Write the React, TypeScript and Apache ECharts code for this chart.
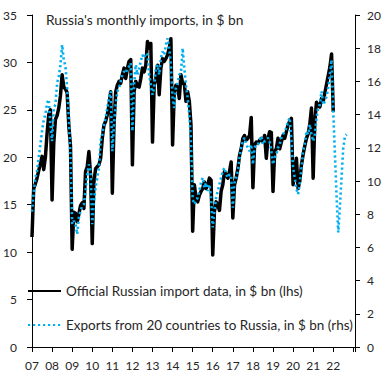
import React, { useEffect, useRef } from 'react';
import * as echarts from 'echarts';

// Month index 0 = Jan 2007
const yearTickLabels = ['07', '08', '09', '10', '11', '12', '13', '14', '15', '16', '17', '18', '19', '20', '21', '22'];

// Official Russian import data, $ bn (lhs), monthly from Jan 2007
const officialImports = [
  11.6, 16.7, 17.2, 17.8, 18.6, 19.3, 20.1, 18.7, 20.0, 22.5, 24.5, 25.0, // 2007
  15.5, 21.5, 24.0, 24.4, 25.2, 26.5, 28.7, 27.4, 27.2, 26.8, 23.3, 21.2, // 2008
  10.3, 14.2, 14.1, 13.2, 14.0, 14.9, 15.2, 14.6, 18.5, 19.0, 20.6, 18.1, // 2009
  10.9, 17.4, 18.8, 19.0, 19.2, 19.9, 22.0, 23.4, 23.8, 24.5, 25.5, 26.9, // 2010
  16.2, 23.4, 26.9, 27.6, 28.0, 27.8, 28.7, 29.4, 28.3, 29.4, 30.1, 30.3, // 2011
  19.2, 26.9, 28.0, 27.5, 27.4, 28.3, 29.4, 29.0, 29.7, 32.2, 31.5, 32.0, // 2012
  21.6, 27.6, 28.3, 29.7, 26.6, 29.4, 30.4, 30.1, 30.4, 30.8, 31.5, 32.5, // 2013
  21.3, 26.9, 27.6, 27.4, 26.2, 28.7, 27.8, 27.8, 25.9, 26.9, 25.9, 23.4, // 2014
  12.2, 17.1, 15.7, 15.3, 16.0, 16.4, 16.7, 17.4, 16.7, 17.1, 17.8, 17.6, // 2015
  9.7, 14.3, 15.3, 15.0, 14.4, 16.4, 17.1, 18.5, 18.1, 17.8, 18.5, 19.5, // 2016
  13.6, 17.1, 17.8, 18.8, 20.2, 20.9, 22.0, 22.3, 21.8, 22.0, 22.3, 24.2, // 2017
  16.8, 21.3, 21.6, 21.5, 21.8, 22.0, 21.6, 22.3, 19.9, 22.0, 22.7, 22.6, // 2018
  16.4, 20.6, 20.9, 22.0, 20.9, 21.6, 22.3, 22.0, 22.7, 23.4, 23.8, 24.1, // 2019
  17.1, 18.1, 19.9, 16.7, 17.5, 19.2, 20.3, 21.2, 22.0, 22.5, 23.5, 25.2, // 2020
  17.8, 23.8, 25.8, 25.5, 25.3, 26.2, 25.9, 26.8, 27.7, 28.6, 29.5, 30.9, // 2021
  24.8, // 2022
];

// Exports from 20 countries to Russia, $ bn (rhs), monthly from Jan 2007
const partnerExports = [
  8.15, 9.3, 10.2, 10.6, 11.4, 12.2, 13.0, 13.7, 14.0, 14.7, 14.9, 13.4, // 2007
  12.4, 14.4, 14.6, 15.9, 16.3, 17.0, 18.2, 17.3, 16.9, 15.6, 13.8, 11.5, // 2008
  7.4, 7.6, 7.4, 6.8, 7.8, 8.2, 8.5, 8.6, 9.4, 10.4, 11.0, 10.6, // 2009
  7.4, 8.8, 9.6, 10.2, 10.8, 12.4, 12.8, 13.4, 13.8, 14.4, 15.0, 15.4, // 2010
  11.8, 13.4, 14.6, 15.4, 15.6, 16.0, 16.4, 16.6, 16.5, 16.8, 16.9, 17.1, // 2011
  13.0, 15.8, 17.0, 16.4, 16.8, 17.2, 17.6, 17.4, 17.7, 17.6, 16.4, 15.8, // 2012
  15.2, 15.6, 16.8, 17.0, 16.4, 17.4, 17.8, 17.6, 18.2, 18.6, 18.0, 17.0, // 2013
  15.0, 14.4, 15.6, 15.9, 16.4, 16.5, 18.0, 16.8, 15.8, 15.0, 14.0, 12.4, // 2014
  8.9, 8.6, 8.8, 9.0, 9.4, 9.9, 10.2, 9.6, 9.9, 9.4, 9.8, 9.0, // 2015
  7.2, 8.2, 9.0, 9.4, 9.8, 10.2, 10.6, 10.8, 10.4, 10.2, 10.4, 10.3, // 2016
  8.4, 9.9, 10.2, 10.6, 11.4, 12.0, 12.4, 12.6, 12.2, 12.0, 11.8, 12.2, // 2017
  11.0, 12.0, 12.2, 12.2, 12.4, 12.7, 12.2, 12.4, 12.5, 12.6, 12.4, 11.8, // 2018
  11.0, 11.4, 11.6, 12.0, 12.2, 12.6, 12.8, 13.0, 13.2, 13.6, 13.8, 12.4, // 2019
  10.8, 10.2, 9.5, 9.2, 9.9, 10.8, 11.8, 12.2, 13.0, 12.8, 13.4, 12.8, // 2020
  12.4, 12.8, 13.8, 14.4, 14.6, 15.4, 14.6, 14.8, 15.1, 15.6, 16.4, 17.3, // 2021
  14.2, 11.6, 9.0, 6.9, 8.5, 10.3, 12.0, 12.7, 12.8, // 2022
];

const leftTicks = { min: 0, max: 35, interval: 5 };
const rightTicks = { min: 0, max: 20, interval: 2 };
const monthAxisMax = 193;

const chartTitle = "Russia's monthly imports, in $ bn";
const seriesNames = [
  'Official Russian import data, in $ bn (lhs)',
  'Exports from 20 countries to Russia, in $ bn (rhs)',
];

const FONT = 'Lato, "Noto Sans", sans-serif';
const TEXT = '#262626';
const BLUE = '#00B0F0';

export default function App() {
  const ref = useRef<HTMLDivElement>(null);
  useEffect(() => {
    if (!ref.current) return;
    const chart = echarts.init(ref.current, null, { renderer: 'svg' });
    const axisLine = { show: true, lineStyle: { color: '#000', width: 1 } };
    const axisTick = { show: true, length: 5, inside: false, lineStyle: { color: '#000', width: 1 } };
    chart.setOption({
      animation: false,
      textStyle: { fontFamily: FONT },
      title: {
        text: chartTitle,
        left: 46,
        top: 12,
        padding: 0,
        textStyle: { fontFamily: FONT, fontSize: 13.8, fontWeight: 'normal', color: TEXT },
      },
      legend: {
        orient: 'vertical',
        left: 27,
        top: 284,
        padding: 0,
        itemGap: 20,
        itemWidth: 33,
        itemHeight: 14,
        itemStyle: { opacity: 0 },
        textStyle: { fontFamily: FONT, fontSize: 13.5, color: TEXT },
        data: seriesNames,
      },
      grid: { left: 32, right: 30, top: 15, bottom: 35 },
      xAxis: {
        type: 'value',
        min: 0,
        max: monthAxisMax,
        interval: 12,
        axisLine,
        axisTick,
        splitLine: { show: false },
        axisLabel: {
          margin: 12,
          fontFamily: FONT,
          fontSize: 12,
          color: TEXT,
          showMaxLabel: true,
          formatter: (v: number) => {
            const i = v / 12;
            return Number.isInteger(i) && i < yearTickLabels.length ? yearTickLabels[i] : '';
          },
        },
      },
      yAxis: [
        {
          type: 'value',
          position: 'left',
          ...leftTicks,
          axisLine,
          axisTick,
          splitLine: { show: false },
          axisLabel: { margin: 15, fontFamily: FONT, fontSize: 12, color: TEXT },
        },
        {
          type: 'value',
          position: 'right',
          ...rightTicks,
          axisLine,
          axisTick,
          splitLine: { show: false },
          axisLabel: { margin: 12, fontFamily: FONT, fontSize: 12, color: TEXT },
        },
      ],
      series: [
        {
          name: seriesNames[0],
          type: 'line',
          yAxisIndex: 0,
          symbol: 'none',
          z: 2,
          lineStyle: { color: '#000', width: 3.5, join: 'round' },
          itemStyle: { color: '#000' },
          data: officialImports.map((v, i) => [i, v]),
        },
        {
          name: seriesNames[1],
          type: 'line',
          yAxisIndex: 1,
          symbol: 'none',
          z: 3,
          lineStyle: { color: BLUE, width: 2.6, type: [2.2, 2.8], cap: 'butt' },
          itemStyle: { color: BLUE },
          data: partnerExports.map((v, i) => [i, v]),
        },
      ],
    });
    return () => chart.dispose();
  }, []);
  return <div ref={ref} style={{ position: 'absolute', left: 0, top: 0, width: 385, height: 382 }} />;
}
